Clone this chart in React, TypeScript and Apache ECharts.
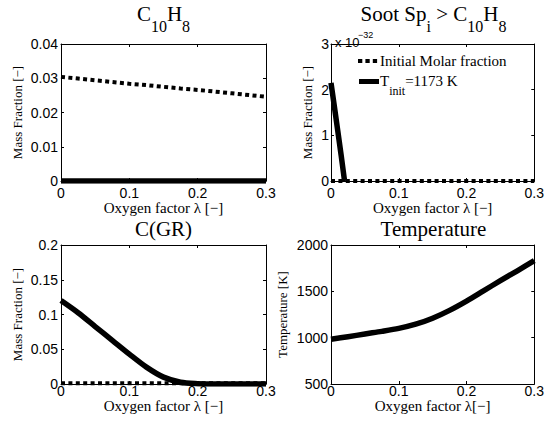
import React, { useEffect, useRef } from "react";
import * as echarts from "echarts";

// Oxygen factor lambda sampling
const lambda = [0, 0.025, 0.05, 0.075, 0.1, 0.125, 0.15, 0.175, 0.2, 0.225, 0.25, 0.275, 0.3];
// C10H8 mass fraction
const c10h8Initial = [0.0304, 0.0299, 0.0294, 0.0289, 0.0284, 0.028, 0.0275, 0.027, 0.0266, 0.0261, 0.0256, 0.0251, 0.0246];
const c10h8Tinit = [0, 0, 0, 0, 0, 0, 0, 0, 0, 0, 0, 0, 0];
// Soot Sp_i > C10H8 (values in units of 1e-32)
const sootLambda = [0, 0.005, 0.01, 0.015, 0.02, 0.025, 0.05, 0.1, 0.15, 0.2, 0.25, 0.3];
const sootInitial = [0, 0, 0, 0, 0, 0, 0, 0, 0, 0, 0, 0];
const sootTinit = [2.15, 1.63, 1.1, 0.56, 0, null, null, null, null, null, null, null];
// C(GR)
const cgrInitial = [0.001, 0.001, 0.001, 0.001, 0.001, 0.001, 0.001, 0.001, 0.001, 0.001, 0.001, 0.001, 0.001];
const cgrTinit = [0.12, 0.1025, 0.0827, 0.0629, 0.043, 0.0243, 0.0099, 0.0025, 0.0005, 0, 0, 0, 0];
// Temperature [K]
const tempTinit = [983, 1010, 1040, 1068, 1100, 1145, 1210, 1295, 1395, 1505, 1615, 1722, 1831];

// Tick values
const xTicks = [0, 0.1, 0.2, 0.3];
const c10h8YTicks = [0, 0.01, 0.02, 0.03, 0.04];
const sootYTicks = [0, 1, 2, 3];
const cgrYTicks = [0, 0.05, 0.1, 0.15, 0.2];
const tempYTicks = [500, 1000, 1500, 2000];

const SANS = "Liberation Sans";
const SERIF = "Liberation Serif";

const fmt = (v: number) => String(parseFloat(Number(v).toFixed(4)));

const range = (t: number[]) => ({ min: t[0], max: t[t.length - 1], interval: t[1] - t[0] });

const grids = [
  { left: 61, top: 44, width: 205, height: 137 },
  { left: 331, top: 44, width: 205, height: 137 },
  { left: 61, top: 245, width: 205, height: 139 },
  { left: 331, top: 245, width: 205, height: 139 },
];

function xAxis(g: number, primary: boolean, margin: number, nameGap: number, name: string) {
  return {
    type: "value",
    gridIndex: g,
    position: primary ? "bottom" : "top",
    ...range(xTicks),
    axisLine: { show: true, onZero: false, lineStyle: { color: "#000", width: 1 } },
    axisTick: { show: true, inside: true, length: 3, lineStyle: { color: "#000", width: 1 } },
    axisLabel: { show: primary, margin, fontFamily: SANS, fontSize: 14, color: "#000", formatter: fmt },
    splitLine: { show: false },
    name: primary ? name : "",
    nameLocation: "middle",
    nameGap,
    nameTextStyle: { fontFamily: SERIF, fontSize: 15, color: "#000" },
  };
}

function yAxis(g: number, primary: boolean, ticks: number[], margin: number, nameGap: number, name: string) {
  return {
    type: "value",
    gridIndex: g,
    position: primary ? "left" : "right",
    ...range(ticks),
    axisLine: { show: true, onZero: false, lineStyle: { color: "#000", width: 1 } },
    axisTick: { show: true, inside: true, length: 3, lineStyle: { color: "#000", width: 1 } },
    axisLabel: { show: primary, margin, fontFamily: SANS, fontSize: 14, color: "#000", formatter: fmt },
    splitLine: { show: false },
    name: primary ? name : "",
    nameLocation: "middle",
    nameGap,
    nameTextStyle: { fontFamily: SERIF, fontSize: 13, color: "#000" },
  };
}

const dotted = { color: "#000", width: 4, type: [4, 3.4], cap: "butt" };
const solid = { color: "#000", width: 5.5, type: "solid", cap: "butt", join: "round" };

function line(g: number, xs: number[], ys: (number | null)[], style: any, name: string, smooth: number = 0) {
  return {
    type: "line",
    name,
    xAxisIndex: g,
    yAxisIndex: g,
    data: xs.map((x, i) => [x, ys[i]]),
    symbol: "none",
    showSymbol: false,
    connectNulls: false,
    smooth,
    lineStyle: style,
    silent: true,
  };
}

const titleRich = {
  n: { fontFamily: SERIF, fontSize: 21, fontWeight: "normal", color: "#000", lineHeight: 24, verticalAlign: "top" },
  s: { fontFamily: SERIF, fontSize: 16, fontWeight: "normal", color: "#000", lineHeight: 31, verticalAlign: "bottom" },
};

function title(text: string, x: number, y: number) {
  return {
    text,
    left: x,
    top: y,
    textAlign: "center",
    padding: 0,
    textStyle: { fontWeight: "normal", fontFamily: SERIF, fontSize: 21, color: "#000", rich: titleRich },
  };
}

export default function App() {
  const ref = useRef<HTMLDivElement>(null);
  useEffect(() => {
    if (!ref.current) return;
    const chart = echarts.init(ref.current, null, { renderer: "svg" });
    const option: any = {
      animation: false,
      backgroundColor: "#fff",
      title: [
        title("{n|C}{s|10}{n|H}{s|8}", 163.5, 3),
        title("{n|Soot\u00a0Sp}{s|i}{n|\u00a0>\u00a0C}{s|10}{n|H}{s|8}", 433.5, 3),
        title("{n|C(GR)}", 163.5, 218),
        title("{n|Temperature}", 433.5, 218),
      ],
      grid: grids.map((g) => ({ ...g, containLabel: false })),
      xAxis: [
        xAxis(0, true, 5, 18, "Oxygen factor λ [−]"),
        xAxis(1, true, 5, 18, "Oxygen factor λ [−]"),
        xAxis(2, true, 0, 11, "Oxygen factor λ [−]"),
        xAxis(3, true, 0, 11, "Oxygen factor λ[−]"),
        xAxis(0, false, 0, 0, ""),
        xAxis(1, false, 0, 0, ""),
        xAxis(2, false, 0, 0, ""),
        xAxis(3, false, 0, 0, ""),
      ],
      yAxis: [
        yAxis(0, true, c10h8YTicks, 3, 37, "Mass Fraction [−]"),
        yAxis(1, true, sootYTicks, 2, 17, "Mass Fraction [−]"),
        yAxis(2, true, cgrYTicks, 3, 37, "Mass Fraction [−]"),
        yAxis(3, true, tempYTicks, 3, 42, "Temperature [K]"),
        yAxis(0, false, c10h8YTicks, 0, 0, ""),
        yAxis(1, false, sootYTicks, 0, 0, ""),
        yAxis(2, false, cgrYTicks, 0, 0, ""),
        yAxis(3, false, tempYTicks, 0, 0, ""),
      ],
      series: [
        line(0, lambda, c10h8Initial, dotted, "Initial Molar fraction"),
        line(0, lambda, c10h8Tinit, solid, "T_init=1173 K"),
        line(1, sootLambda, sootTinit, solid, "T_init=1173 K"),
        line(1, sootLambda, sootInitial, dotted, "Initial Molar fraction"),
        line(2, lambda, cgrInitial, dotted, "Initial Molar fraction"),
        line(2, lambda, cgrTinit, solid, "T_init=1173 K", 0.3),
        line(3, lambda, tempTinit, solid, "T_init=1173 K", 0.3),
      ],
      graphic: [
        {
          type: "line",
          shape: { x1: 358, y1: 61, x2: 378.5, y2: 61 },
          style: { stroke: "#000", lineWidth: 4, lineDash: [4.3, 3.1] },
        },
        {
          type: "text",
          x: 380,
          y: 61,
          style: { text: "Initial Molar fraction", font: `15px "${SERIF}"`, fill: "#000", verticalAlign: "middle" },
        },
        {
          type: "line",
          shape: { x1: 359, y1: 81.5, x2: 379, y2: 81.5 },
          style: { stroke: "#000", lineWidth: 5 },
        },
        {
          type: "text",
          x: 380,
          y: 73.5,
          style: {
            text: "{n|T}{s|init}{n|=1173 K}",
            fill: "#000",
            rich: {
              n: { fontFamily: SERIF, fontSize: 15, fill: "#000", lineHeight: 16, verticalAlign: "top" },
              s: { fontFamily: SERIF, fontSize: 12, fill: "#000", lineHeight: 23.5, verticalAlign: "bottom" },
            },
          },
        },
        {
          type: "text",
          x: 335,
          y: 42,
          style: { text: "x 10", font: `13px "${SANS}"`, fill: "#000", verticalAlign: "middle" },
        },
        {
          type: "text",
          x: 358,
          y: 34.5,
          style: { text: "−32", font: `9px "${SANS}"`, fill: "#000", verticalAlign: "middle" },
        },
      ],
    };
    chart.setOption(option);
    return () => chart.dispose();
  }, []);
  return (
    <div
      ref={ref}
      style={{ position: "absolute", left: 0, top: 0, width: 547, height: 424, background: "#fff" }}
    />
  );
}
